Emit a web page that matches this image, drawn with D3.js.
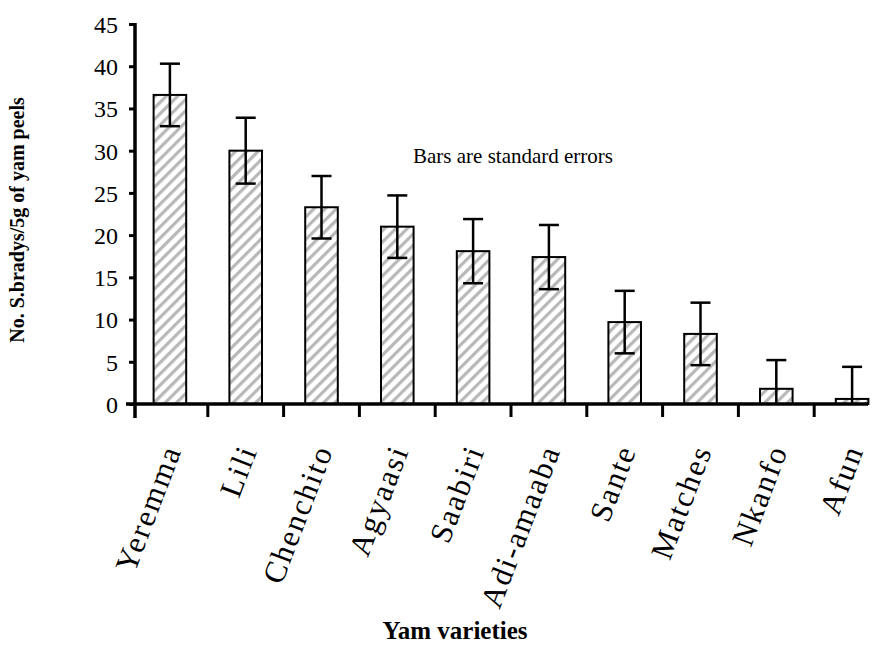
<!DOCTYPE html>
<html>
<head>
<meta charset="utf-8">
<script src="https://cdn.jsdelivr.net/npm/d3@7"></script>
<style>
  body { margin: 0; background: #fff; }
  svg text { font-family: "Liberation Serif", "Times New Roman", serif; fill: #000; }
</style>
</head>
<body>
<div id="chart"></div>
<script>
// yam varieties and mean counts
var varieties = ["Yeremma", "Lili", "Chenchito", "Agyaasi", "Saabiri",
    "Adi-amaaba", "Sante", "Matches", "Nkanfo", "Afun"];
var means = [36.6, 30.0, 23.3, 21.0, 18.1, 17.4, 9.7, 8.3, 1.8, 0.6];
var stdErrors = [3.7, 3.9, 3.7, 3.7, 3.8, 3.8, 3.7, 3.7, 3.4, 3.8];
var yTicks = [0, 5, 10, 15, 20, 25, 30, 35, 40, 45];

var width = 881, height = 645;
var serif = "'Liberation Serif', 'Times New Roman', serif";

var svg = d3.select("#chart").append("svg")
    .attr("width", width)
    .attr("height", height);

// diagonal hatch for the bars
var defs = svg.append("defs");
var pat = defs.append("pattern")
    .attr("id", "hatch")
    .attr("patternUnits", "userSpaceOnUse")
    .attr("width", 8)
    .attr("height", 8)
    .attr("patternTransform", "rotate(45)");
pat.append("rect").attr("width", 8).attr("height", 8).attr("fill", "#fff");
pat.append("rect").attr("x", 0).attr("width", 3.2).attr("height", 8).attr("fill", "#b8b8b8");

var x = d3.scaleBand()
    .domain(varieties)
    .range([132, 890])
    .paddingInner(0.57)
    .paddingOuter(0.285);

var y = d3.scaleLinear()
    .domain([0, 45])
    .range([404, 24]);

var xEnd = 868;

// bars
svg.selectAll("rect.bar")
    .data(varieties)
    .enter().append("rect")
    .attr("class", "bar")
    .attr("x", function (d) { return x(d); })
    .attr("y", function (d, i) { return y(means[i]); })
    .attr("width", x.bandwidth())
    .attr("height", function (d, i) { return y(0) - y(means[i]); })
    .attr("fill", "url(#hatch)")
    .attr("stroke", "#000")
    .attr("stroke-width", 2);

// error bars
var err = svg.selectAll("g.err")
    .data(varieties)
    .enter().append("g")
    .attr("class", "err");

err.append("line")
    .attr("x1", function (d) { return x(d) + x.bandwidth() / 2; })
    .attr("x2", function (d) { return x(d) + x.bandwidth() / 2; })
    .attr("y1", function (d, i) { return y(means[i] + stdErrors[i]); })
    .attr("y2", function (d, i) { return y(Math.max(0, means[i] - stdErrors[i])); })
    .attr("stroke", "#000")
    .attr("stroke-width", 2.5);

err.append("line")
    .attr("x1", function (d) { return x(d) + x.bandwidth() / 2 - 10; })
    .attr("x2", function (d) { return x(d) + x.bandwidth() / 2 + 10; })
    .attr("y1", function (d, i) { return y(means[i] + stdErrors[i]); })
    .attr("y2", function (d, i) { return y(means[i] + stdErrors[i]); })
    .attr("stroke", "#000")
    .attr("stroke-width", 2.5);

err.filter(function (d, i) { return means[i] - stdErrors[i] > 0; })
    .append("line")
    .attr("x1", function (d) { return x(d) + x.bandwidth() / 2 - 10; })
    .attr("x2", function (d) { return x(d) + x.bandwidth() / 2 + 10; })
    .attr("y1", function (d) { var i = varieties.indexOf(d); return y(means[i] - stdErrors[i]); })
    .attr("y2", function (d) { var i = varieties.indexOf(d); return y(means[i] - stdErrors[i]); })
    .attr("stroke", "#000")
    .attr("stroke-width", 2.5);

// y axis
var yAxis = svg.append("g")
    .attr("transform", "translate(135,0)")
    .call(d3.axisLeft(y).tickValues(yTicks).tickSize(6).tickPadding(11));
yAxis.attr("font-family", serif).attr("font-size", 24);
yAxis.select(".domain").remove();
yAxis.selectAll(".tick line").attr("stroke-width", 3);
yAxis.selectAll(".tick text")
    .attr("dy", "0.35em")
    .style("font-family", serif)
    .style("font-size", "24px");

svg.append("line")
    .attr("x1", 135).attr("x2", 135)
    .attr("y1", 23).attr("y2", 418)
    .attr("stroke", "#000").attr("stroke-width", 3.5);

// x axis line and category boundary ticks
svg.append("line")
    .attr("x1", 126).attr("x2", xEnd)
    .attr("y1", y(0)).attr("y2", y(0))
    .attr("stroke", "#000").attr("stroke-width", 3.5);

var step = x.step();
svg.selectAll("line.xtick")
    .data(varieties.slice(1))
    .enter().append("line")
    .attr("class", "xtick")
    .attr("x1", function (d) { return x(d) - x.paddingInner() * step / 2; })
    .attr("x2", function (d) { return x(d) - x.paddingInner() * step / 2; })
    .attr("y1", y(0))
    .attr("y2", y(0) + 13)
    .attr("stroke", "#000").attr("stroke-width", 3);

// category labels
svg.selectAll("text.xlab")
    .data(varieties)
    .enter().append("text")
    .attr("class", "xlab")
    .attr("transform", function (d) {
        return "translate(" + (x(d) + x.bandwidth() / 2 + 12) + ",450) rotate(-69)";
    })
    .attr("text-anchor", "end")
    .style("font-family", serif)
    .style("font-size", "31px")
    .style("letter-spacing", "2px")
    .text(function (d) { return d; });

// axis titles
svg.append("text")
    .attr("transform", "translate(24,220) rotate(-90)")
    .attr("text-anchor", "middle")
    .style("font-family", serif)
    .style("font-size", "20px")
    .style("font-weight", "bold")
    .text("No. S.bradys/5g of yam peels");

svg.append("text")
    .attr("x", 455)
    .attr("y", 639)
    .attr("text-anchor", "middle")
    .style("font-family", serif)
    .style("font-size", "25px")
    .style("font-weight", "bold")
    .text("Yam varieties");

svg.append("text")
    .attr("x", 413)
    .attr("y", 163)
    .style("font-family", serif)
    .style("font-size", "21px")
    .text("Bars are standard errors");
</script>
</body>
</html>
